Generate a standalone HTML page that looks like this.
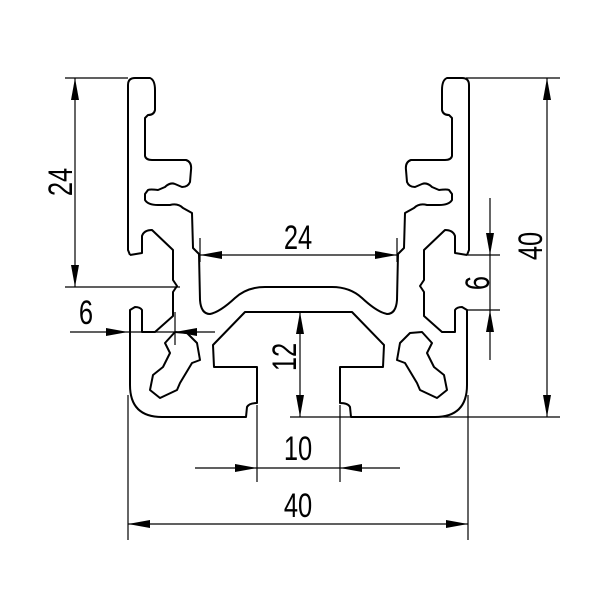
<!DOCTYPE html>
<html><head><meta charset="utf-8"><style>
html,body{margin:0;padding:0;background:#fff;}
svg{display:block;}
text{font-family:"Liberation Sans",sans-serif;font-size:34px;fill:#000;}
</style></head><body>
<svg width="613" height="613" viewBox="0 0 613 613" xmlns="http://www.w3.org/2000/svg">
<g fill="none" stroke="#000" stroke-width="2" stroke-linejoin="round">
 <g id="half">
  <path d="M130,255 L128,250 L128,85 Q128,78 135,78 L150,78 Q155,80 155,90 L155,110 Q154,115 148,115 L145,118 L145,156 Q146,160 152,160 L186,160 Q192,162 191,170 L190,182 Q188,187 182,187 L175,184 Q170,182 165,187 L158,190 Q150,189 148,190 L145,194 L145,200 Q148,205 158,205 L170,205 Q178,203 183,208 L192,213 L193,248 L199,254 L200,300 Q201,314 210,314 Q220,312 235,298 Q247,287 265,287 L298.5,287"/>
  <path d="M130,255 L142,253 L142,236 Q144,230 152,230 L173,250 L173,280 L177,286 L173,292 L173,316 L155,332 L142,332 L142,310 Q140,307 135,307 L130,310 L130,385 Q130,417 162,417 L246,417 L247,407 Q249,403 257,403 L257,367 L214,367 L213,345 L245,312 L298.5,312"/>
  <path d="M175,332 L187,333 L197,343 L200,360 L192,363 L180,383 L177,390 L160,398 L150,390 L153,375 L163,367 L170,353 L165,343 Z"/>
 </g>
 <use href="#half" transform="translate(597,0) scale(-1,1)"/>
</g>
<g stroke="#000" stroke-width="1.2" fill="none">
 <line x1="65" y1="78" x2="128" y2="78"/>
 <line x1="65" y1="287" x2="180" y2="287"/>
 <line x1="466" y1="78" x2="560" y2="78"/>
 <line x1="290" y1="417" x2="560" y2="417"/>
 <line x1="466" y1="255" x2="500" y2="255"/>
 <line x1="466" y1="310" x2="500" y2="310"/>
 <line x1="75" y1="78" x2="75" y2="287"/>
 <line x1="547" y1="78" x2="547" y2="417"/>
 <line x1="490" y1="198" x2="490" y2="360"/>
 <line x1="200" y1="238" x2="200" y2="262"/>
 <line x1="397" y1="238" x2="397" y2="262"/>
 <line x1="200" y1="255" x2="397" y2="255"/>
 <line x1="70" y1="332" x2="215" y2="332"/>
 <line x1="175" y1="312" x2="175" y2="345"/>
 <line x1="300" y1="312" x2="300" y2="417"/>
 <line x1="257" y1="405" x2="257" y2="482"/>
 <line x1="340" y1="405" x2="340" y2="482"/>
 <line x1="195" y1="468" x2="400" y2="468"/>
 <line x1="128" y1="395" x2="128" y2="540"/>
 <line x1="468" y1="395" x2="468" y2="540"/>
 <line x1="128" y1="524" x2="468" y2="524"/>
</g>
<g fill="#000">
 <path d="M75,78 l-4,22 h8z"/><path d="M75,287 l-4,-22 h8z"/>
 <path d="M547,78 l-4,22 h8z"/><path d="M547,417 l-4,-22 h8z"/>
 <path d="M490,255 l-4,-22 h8z"/><path d="M490,310 l-4,22 h8z"/>
 <path d="M200,255 l22,-4 v8z"/><path d="M397,255 l-22,-4 v8z"/>
 <path d="M128,332 l-22,-4 v8z"/><path d="M175,332 l22,-4 v8z"/>
 <path d="M300,312 l-4,22 h8z"/><path d="M300,417 l-4,-22 h8z"/>
 <path d="M257,468 l-22,-4 v8z"/><path d="M340,468 l22,-4 v8z"/>
 <path d="M128,524 l22,-4 v8z"/><path d="M468,524 l-22,-4 v8z"/>
</g>
<g>
 <text transform="translate(298,249) scale(0.75,1)" text-anchor="middle">24</text>
 <text transform="translate(86,324) scale(0.75,1)" text-anchor="middle">6</text>
 <text transform="translate(298,460) scale(0.75,1)" text-anchor="middle">10</text>
 <text transform="translate(298,517) scale(0.75,1)" text-anchor="middle">40</text>
 <text transform="translate(72,182) rotate(-90) scale(0.75,1)" text-anchor="middle">24</text>
 <text transform="translate(542,246) rotate(-90) scale(0.75,1)" text-anchor="middle">40</text>
 <text transform="translate(489,283) rotate(-90) scale(0.75,1)" text-anchor="middle">6</text>
 <text transform="translate(296,357) rotate(-90) scale(0.75,1)" text-anchor="middle">12</text>
</g>
</svg>
</body></html>
